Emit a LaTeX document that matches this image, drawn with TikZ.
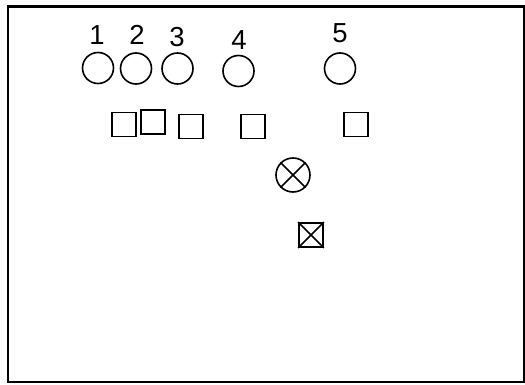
\documentclass[tikz,border=0pt]{standalone}
\usepackage{fontspec}
\setmainfont{Liberation Sans}
\begin{document}
\begin{tikzpicture}[x=1pt,y=-1pt,
  player/.style={draw,circle,line width=1.6pt,minimum size=31pt,inner sep=0pt},
  sq/.style={draw,rectangle,line width=1.9pt,minimum size=24pt,inner sep=0pt},
  num/.style={font=\fontsize{27.5}{27.5}\selectfont,inner sep=0pt,anchor=base}]
\useasboundingbox (0,0) rectangle (525,385);
\draw[line width=2.6pt] (8,6.5) rectangle (524,382);
% numbers
\node[num] (n1) at (97,45) {1};
\node[num] (n2) at (137,45) {2};
\node[num] (n3) at (177,46.5) {3};
\node[num] (n4) at (239,50) {4};
\node[num] (n5) at (340,43) {5};
% circles
\node[player] (c1) at (98,68) {};
\node[player] (c2) at (136,68.5) {};
\node[player] (c3) at (177.5,68.5) {};
\node[player] (c4) at (238.5,71) {};
\node[player] (c5) at (340,68.5) {};
% squares
\node[sq] (s1) at (124,124.5) {};
\node[sq] (s2) at (153,122) {};
\node[sq] (s3) at (191,126.5) {};
\node[sq] (s4) at (253,126.5) {};
\node[sq] (s5) at (356,124.5) {};
% crossed circle
\node[player,minimum size=34pt] (ox) at (293,175) {};
\draw[line width=1.6pt] (ox.45) -- (ox.225) (ox.135) -- (ox.315);
% crossed box
\node[sq] (bx) at (311,235) {};
\draw[line width=1.5pt] (bx.north west) -- (bx.south east) (bx.north east) -- (bx.south west);
\end{tikzpicture}
\end{document}
